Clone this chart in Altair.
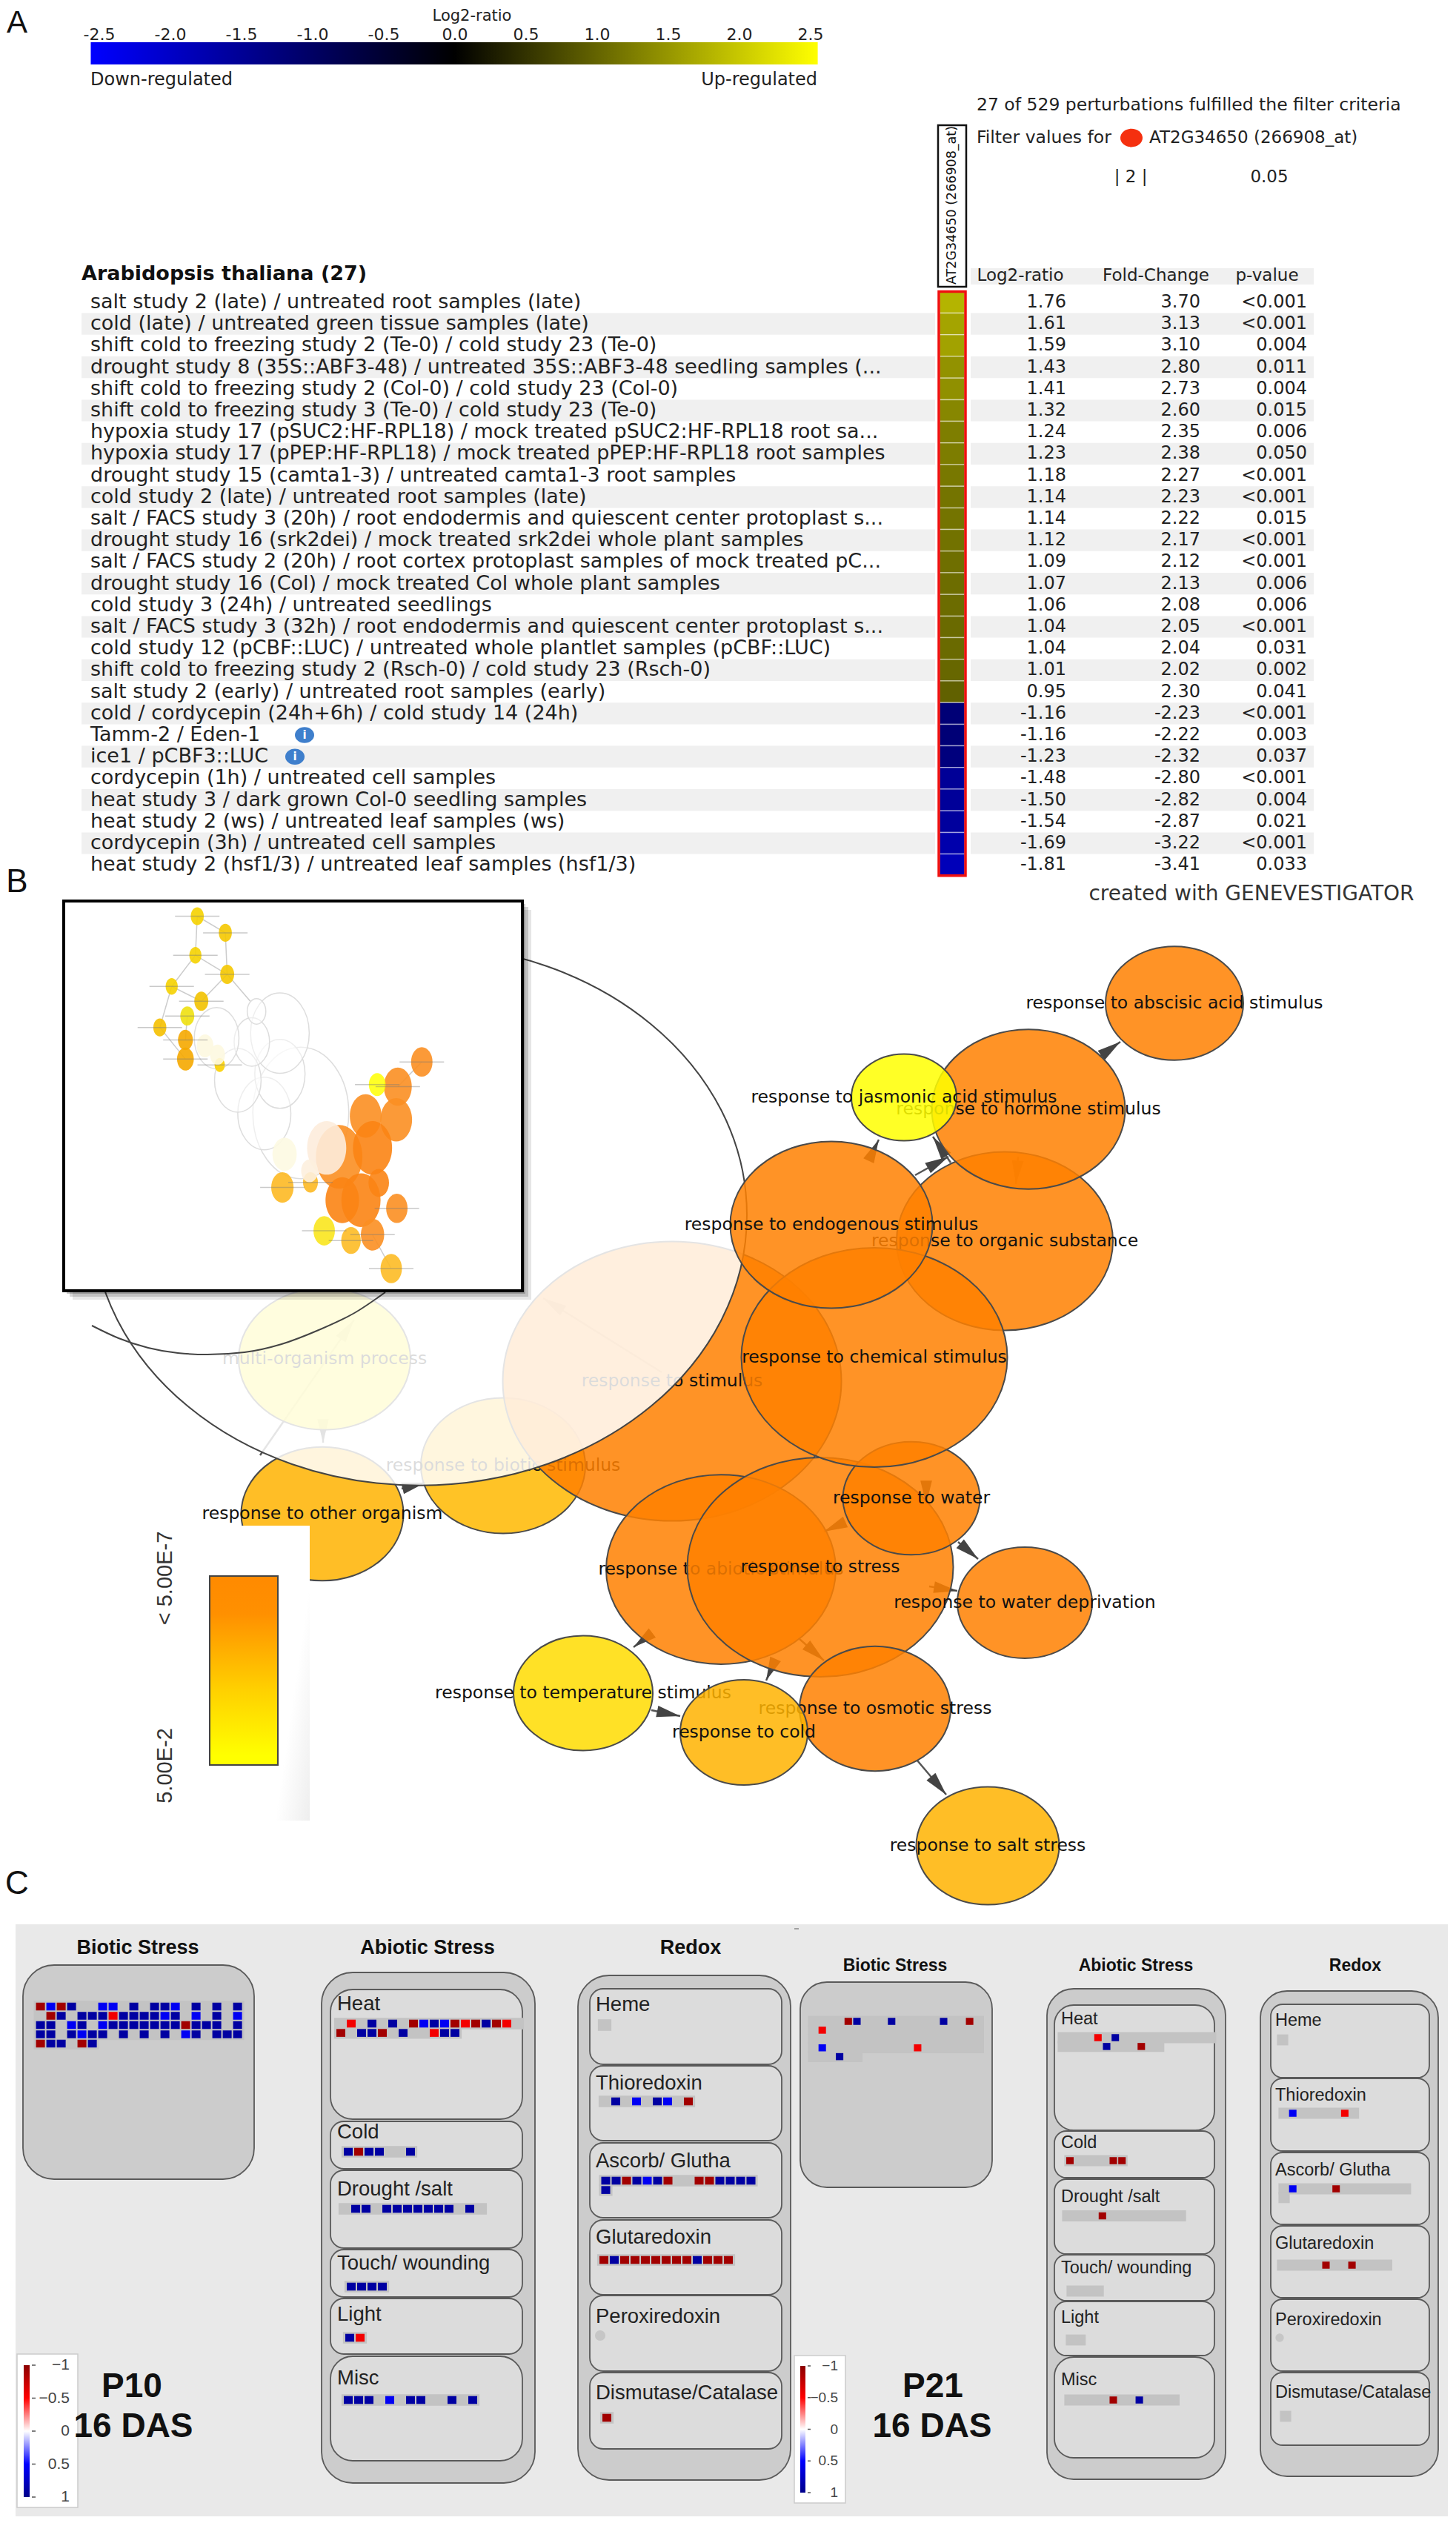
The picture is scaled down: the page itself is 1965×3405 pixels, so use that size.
import math
import altair as alt
import pandas as pd

W, H = 1949, 3389
PX = alt.Scale(domain=[8, 1957], range=[0, W], nice=False, zero=False)
PY = alt.Scale(domain=[8, 3397], range=[0, H], nice=False, zero=False)
SANS = "DejaVu Sans"
ARIAL = "Liberation Sans"

# ---------- panel A values ----------
row_labels = [
    "salt study 2 (late) / untreated root samples (late)",
    "cold (late) / untreated green tissue samples (late)",
    "shift cold to freezing study 2 (Te-0) / cold study 23 (Te-0)",
    "drought study 8 (35S::ABF3-48) / untreated 35S::ABF3-48 seedling samples (...",
    "shift cold to freezing study 2 (Col-0) / cold study 23 (Col-0)",
    "shift cold to freezing study 3 (Te-0) / cold study 23 (Te-0)",
    "hypoxia study 17 (pSUC2:HF-RPL18) / mock treated pSUC2:HF-RPL18 root sa...",
    "hypoxia study 17 (pPEP:HF-RPL18) / mock treated pPEP:HF-RPL18 root samples",
    "drought study 15 (camta1-3) / untreated camta1-3 root samples",
    "cold study 2 (late) / untreated root samples (late)",
    "salt / FACS study 3 (20h) / root endodermis and quiescent center protoplast s...",
    "drought study 16 (srk2dei) / mock treated srk2dei whole plant samples",
    "salt / FACS study 2 (20h) / root cortex protoplast samples of mock treated pC...",
    "drought study 16 (Col) / mock treated Col whole plant samples",
    "cold study 3 (24h) / untreated seedlings",
    "salt / FACS study 3 (32h) / root endodermis and quiescent center protoplast s...",
    "cold study 12 (pCBF::LUC) / untreated whole plantlet samples (pCBF::LUC)",
    "shift cold to freezing study 2 (Rsch-0) / cold study 23 (Rsch-0)",
    "salt study 2 (early) / untreated root samples (early)",
    "cold / cordycepin (24h+6h) / cold study 14 (24h)",
    "Tamm-2 / Eden-1",
    "ice1 / pCBF3::LUC",
    "cordycepin (1h) / untreated cell samples",
    "heat study 3 / dark grown Col-0 seedling samples",
    "heat study 2 (ws) / untreated leaf samples (ws)",
    "cordycepin (3h) / untreated cell samples",
    "heat study 2 (hsf1/3) / untreated leaf samples (hsf1/3)",
]
log2_ratio = [1.76, 1.61, 1.59, 1.43, 1.41, 1.32, 1.24, 1.23, 1.18, 1.14, 1.14, 1.12, 1.09, 1.07,
              1.06, 1.04, 1.04, 1.01, 0.95, -1.16, -1.16, -1.23, -1.48, -1.50, -1.54, -1.69, -1.81]
fold_change = [3.70, 3.13, 3.10, 2.80, 2.73, 2.60, 2.35, 2.38, 2.27, 2.23, 2.22, 2.17, 2.12, 2.13,
               2.08, 2.05, 2.04, 2.02, 2.30, -2.23, -2.22, -2.32, -2.80, -2.82, -2.87, -3.22, -3.41]
p_values = ["<0.001", "<0.001", "0.004", "0.011", "0.004", "0.015", "0.006", "0.050", "<0.001",
            "<0.001", "0.015", "<0.001", "<0.001", "0.006", "0.006", "<0.001", "0.031", "0.002",
            "0.041", "<0.001", "0.003", "0.037", "<0.001", "0.004", "0.021", "<0.001", "0.033"]
scale_ticks = [-2.5, -2.0, -1.5, -1.0, -0.5, 0.0, 0.5, 1.0, 1.5, 2.0, 2.5]

# ---------- panel B values ----------
node_names = ["response to other organism", "multi-organism process", "response to biotic stimulus",
              "response to stimulus", "response to abiotic stimulus", "response to stress",
              "response to osmotic stress", "response to temperature stimulus", "response to cold",
              "response to salt stress", "response to water deprivation", "response to water",
              "response to organic substance", "response to chemical stimulus", "response to hormone stimulus",
              "response to jasmonic acid stimulus", "response to endogenous stimulus", "response to abscisic acid stimulus"]
node_x = [435, 438, 679, 907, 973, 1107, 1181, 787, 1004, 1333, 1383, 1230, 1356, 1180, 1388, 1220, 1122, 1585]
node_y = [2043, 1834, 1978, 1864, 2118, 2115, 2306, 2285, 2338, 2491, 2163, 2022, 1675, 1832, 1497, 1481, 1653, 1354]
node_w = [219, 232, 222, 457, 310, 359, 204, 188, 172, 193, 182, 185, 292, 359, 261, 142, 273, 186]
node_fill = ["#ffb300", "#ffee00", "#ffb800", "#ff8000", "#ff8000", "#ff8000", "#ff8000", "#ffdc00", "#ffb300",
             "#ffb300", "#ff8000", "#ff8000", "#ff8000", "#ff8000", "#ff8000", "#ffff00", "#ff8000", "#ff8000"]
edges = [
    ((1484, 1426), (1512, 1406)), ((1175, 1561), (1186, 1538)), ((1235, 1586), (1280, 1561)),
    ((1283, 1569), (1259, 1534)), ((1293, 2081), (1320, 2104)), ((1238, 2376), (1277, 2422)),
    ((880, 2204), (855, 2223)), ((879, 2308), (918, 2316)), ((1079, 2212), (1112, 2241)),
    ((1044, 2245), (1034, 2268)), ((1374, 1561), (1371, 1598)), ((1254, 2141), (1292, 2147)),
    ((1141, 2054), (1112, 2067)), ((436, 1922), (436, 1947)), ((351, 1964), (478, 1781)),
    ((542, 2009), (574, 2001)), ((893, 1852), (733, 1752)), ((1250, 2000), (1250, 2030)),
]
lens_arc_x = [124, 160, 200, 240, 280, 330, 380, 430, 480, 520]
lens_arc_y = [1789, 1806, 1819, 1826, 1828, 1825, 1814, 1795, 1771, 1744]

# inset: x, y, height, fill
mini_white = [(822, 848, 515), (705, 850, 285), (755, 695, 270), (620, 720, 250), (755, 535, 315),
              (665, 570, 190), (552, 555, 240), (680, 450, 100)]
mini_links = [((490, 77), (484, 230)), ((490, 77), (580, 142)), ((580, 142), (586, 305)), ((484, 230), (586, 305)),
              ((484, 230), (408, 352)), ((586, 305), (503, 410)), ((408, 352), (370, 513)), ((586, 305), (660, 410)),
              ((408, 352), (503, 410)), ((370, 513), (452, 637)), ((458, 468), (452, 562)), ((1133, 745), (1210, 648)),
              ((1052, 1325), (1112, 1458))]
mini_nodes = [
    (490, 77, 70, "#f5d100"), (580, 142, 70, "#f5c800"), (484, 230, 65, "#f5d100"), (586, 305, 75, "#f5c800"),
    (408, 352, 65, "#f5d100"), (503, 410, 75, "#f2c200"), (458, 468, 75, "#eee010"), (370, 513, 70, "#f5c000"),
    (452, 562, 80, "#f5a800"), (452, 637, 90, "#f5a800"), (562, 660, 55, "#fbd000"),
    (945, 1020, 250, "#fb8f22"), (1128, 875, 170, "#fb8f22"), (1030, 860, 170, "#fb8f22"), (1133, 745, 150, "#fb8f22"),
    (1210, 648, 115, "#fb8f22"), (1067, 737, 90, "#ffff10"), (955, 1190, 180, "#fb8414"), (1015, 1190, 210, "#fb8414"),
    (1052, 985, 210, "#fb8414"), (1072, 1122, 110, "#fb8414"), (1130, 1222, 115, "#fb8f22"), (897, 1310, 115, "#fae61e"),
    (983, 1348, 105, "#fdbb25"), (1052, 1325, 125, "#fb8f22"), (1112, 1458, 115, "#fdbb25"), (763, 1140, 120, "#fdb924"),
    (853, 1120, 80, "#fdb924"),
]
mini_pale = [(515, 585, 90, "#fdf8e0"), (555, 620, 80, "#fdf8e0"), (770, 1010, 130, "#fdfae2"),
             (905, 985, 210, "#fdecdc"), (850, 1075, 90, "#fdf0de")]

# ---------- panel C values ----------
DR, RD, BL, DB = -0.9, -0.55, 0.55, 0.9
biotic_p10 = [
    [(0, DR), (1, BL), (2, DR), (3, DB), (6, BL), (7, BL), (9, DB), (11, DB), (12, DB), (13, BL), (15, DB), (17, DB), (19, DB)],
    [(1, DR), (2, DB), (4, DB), (5, DB), (6, DB), (7, RD), (8, DB), (9, DB), (10, DB), (11, DB), (12, BL), (13, DB), (15, BL), (17, DB), (19, BL)],
    [(0, DB), (1, DB), (3, BL), (4, DB), (6, BL), (7, DB), (8, DB), (9, DB), (10, DB), (11, DB), (12, DB), (13, DB), (14, DR), (15, DB), (16, DB), (17, DB), (19, DB)],
    [(0, DB), (1, DB), (3, DB), (4, BL), (5, DB), (6, DB), (8, DB), (10, DB), (12, DB), (14, BL), (15, DB), (17, DB), (18, DB), (19, DB)],
    [(0, DR), (1, DB), (2, DB), (4, DR), (5, DB)],
]
heat_p10 = [[(1, RD), (3, DB), (5, DB), (7, DR), (8, BL), (9, DB), (10, BL), (11, DR), (12, RD), (13, DR), (14, DB), (15, DR), (16, RD)],
            [(0, DR), (2, DB), (3, DB), (4, DR), (6, DB), (9, RD), (10, DB), (11, DB)]]
cold_p10 = [[(0, DB), (1, DR), (2, DB), (3, DB), (6, DB)]]
drought_p10 = [[(1, DB), (2, DB), (4, DB), (5, DB), (6, DB), (7, DB), (8, DB), (9, DB), (10, DB), (12, DB)]]
touch_p10 = [[(0, DB), (1, DB), (2, DB), (3, DB)]]
light_p10 = [[(0, DB), (1, RD)]]
misc_p10 = [[(0, DB), (1, DB), (2, DB), (4, BL), (6, DB), (7, DB), (10, DB), (12, DB)]]
thio_p10 = [[(1, DB), (3, BL), (5, DB), (6, BL), (8, DR)]]
asc_p10 = [[(0, DB), (1, DB), (2, DR), (3, DB), (4, BL), (5, DB), (6, DR), (9, DR), (10, DR), (11, DB), (12, DB), (13, DB), (14, DB)], [(0, DB)]]
glut_p10 = [[(0, DR), (1, DB), (2, DR), (3, DR), (4, DR), (5, DR), (6, DR), (7, DR), (8, DR), (9, DB), (10, DR), (11, DR), (12, DR)]]
dis_p10 = [[(0, DR)]]

biotic_p21 = [[(4, DR), (5, DB), (9, DB), (15, DB), (18, DR)], [(1, RD)], [], [(1, BL), (12, RD)], [(3, DB)]]
heat_p21 = [[(4, RD), (6, DB)], [(5, DB), (9, DR)]]
cold_p21 = [[(0, DR), (5, DR), (6, DR)]]
drought_p21 = [[(4, DR)]]
misc_p21 = [[(5, DR), (8, DB)]]
thio_p21 = [[(1, BL), (7, RD)]]
asc_p21 = [[(1, BL), (6, DR)], []]
glut_p21 = [[(5, DR), (8, DR)]]

legend_ticks = [-1, -0.5, 0, 0.5, 1]
legend_labels = ["\u22121", "\u22120.5", "0", "0.5", "1"]

# ---------- helpers ----------
layers = []


def X(f="x", s=PX):
    return alt.X(f + ":Q", scale=s, axis=None, title=None)


def Y(f="y", s=PY):
    return alt.Y(f + ":Q", scale=s, axis=None, title=None)


def rects(rows, sx=PX, sy=PY, color=None, **mk):
    df = pd.DataFrame(rows, columns=["x", "x2", "y", "y2"])
    enc = dict(x=X("x", sx), x2=alt.X2("x2"), y=Y("y", sy), y2=alt.Y2("y2"))
    if color is not None:
        mk["color"] = color
    layers.append(alt.Chart(df).mark_rect(**mk).encode(**enc))


def texts(rows, sx=PX, sy=PY, **mk):
    df = pd.DataFrame(rows, columns=["x", "y", "t"])
    mk.setdefault("baseline", "middle")
    layers.append(alt.Chart(df).mark_text(**mk).encode(x=X("x", sx), y=Y("y", sy), text="t:N"))


def rules(rows, sx=PX, sy=PY, **mk):
    df = pd.DataFrame(rows, columns=["x", "x2", "y"])
    layers.append(alt.Chart(df).mark_rule(**mk).encode(x=X("x", sx), x2=alt.X2("x2"), y=Y("y", sy)))


def ellipse_path(a, b):
    k = 0.5523
    return (f"M{a},0 C{a},{b*k:.4f} {a*k:.4f},{b} 0,{b} C{-a*k:.4f},{b} {-a},{b*k:.4f} {-a},0 "
            f"C{-a},{-b*k:.4f} {-a*k:.4f},{-b} 0,{-b} C{a*k:.4f},{-b} {a},{-b*k:.4f} {a},0 Z")


WIDE = ellipse_path(1, 0.825)
TALL = ellipse_path(0.73, 1)
ARROW = "M0,0 L0.42,1.7 L-0.42,1.7 Z"


def ellipses(xs, ys, ws, path=WIDE, sx=PX, sy=PY, **mk):
    df = pd.DataFrame({"x": xs, "y": ys, "s": [w * w for w in ws]})
    layers.append(alt.Chart(df).mark_point(shape=path, **mk).encode(
        x=X("x", sx), y=Y("y", sy), size=alt.Size("s:Q", scale=None, legend=None)))


# ---------- panel A ----------
texts([(23, 31, "A")], font=ARIAL, fontSize=42, color="#111", align="center")
cbar = alt.Scale(domain=[-2.5, 2.5], range=[134 - 8, 1094 - 8], nice=False, zero=False)
rects([(-2.56, 2.55, 57, 87)], sx=cbar,
      color=alt.Gradient(gradient="linear", x1=0, x2=1, y1=0, y2=0,
                         stops=[alt.GradientStop(color="#0000ff", offset=0),
                                alt.GradientStop(color="#000000", offset=0.5),
                                alt.GradientStop(color="#ffff00", offset=1)]))
texts([(v, 47, f"{v:.1f}") for v in scale_ticks], sx=cbar, font=SANS, fontSize=22, color="#222", align="center")
texts([(637, 22, "Log2-ratio")], font=SANS, fontSize=21, color="#222", align="center")
texts([(122, 108, "Down-regulated")], font=SANS, fontSize=24, color="#222", align="left")
texts([(1103, 108, "Up-regulated")], font=SANS, fontSize=24, color="#222", align="right")

texts([(1318, 142, "27 of 529 perturbations fulfilled the filter criteria"),
       (1318, 186, "Filter values for")], font=SANS, fontSize=23.5, color="#222", align="left")
ellipses([1527], [186], [30], fill="#f5300f", filled=True, strokeWidth=0, opacity=1)
texts([(1551, 186, "AT2G34650 (266908_at)")], font=SANS, fontSize=23, color="#222", align="left")
texts([(1526, 239, "| 2 |"), (1713, 239, "0.05")], font=SANS, fontSize=23, color="#222", align="center")
rects([(1266, 1304, 169, 387)], fill="white", stroke="#111", strokeWidth=2.5)
texts([(1285, 277, "AT2G34650 (266908_at)")], font=SANS, fontSize=17.5, color="#111", align="center", angle=270)
texts([(110, 370, "Arabidopsis thaliana (27)")], font=SANS, fontSize=27, fontWeight="bold", color="#111", align="left")
rects([(1310, 1773, 362, 384)], fill="#f0f0f0")
texts([(1377, 372, "Log2-ratio"), (1560, 372, "Fold-Change"), (1710, 372, "p-value")],
      font=SANS, fontSize=23, color="#222", align="center")

ROW = alt.Scale(domain=[0, 27], range=[393.4 - 8, 1181.8 - 8], nice=False, zero=False)
shade = [(i, i + 1) for i in range(1, 27, 2)]
rects([(110, 1262, a, b) for a, b in shade], sy=ROW, fill="#f0f0f0")
rects([(1310, 1773, a, b) for a, b in shade], sy=ROW, fill="#f0f0f0")
texts([(122, i + 0.5, t) for i, t in enumerate(row_labels)], sy=ROW, font=SANS, fontSize=27, color="#222", align="left")
texts([(1439, i + 0.5, f"{v:.2f}") for i, v in enumerate(log2_ratio)], sy=ROW, font=SANS, fontSize=24, color="#222", align="right")
texts([(1620, i + 0.5, f"{v:.2f}") for i, v in enumerate(fold_change)], sy=ROW, font=SANS, fontSize=24, color="#222", align="right")
texts([(1764, i + 0.5, v) for i, v in enumerate(p_values)], sy=ROW, font=SANS, fontSize=24, color="#222", align="right")

heat = pd.DataFrame({"row": range(27), "row2": [i + 1 for i in range(27)], "v": log2_ratio, "x": 1268, "x2": 1302})
layers.append(alt.Chart(heat).mark_rect(stroke="#ffffff", strokeOpacity=0.45, strokeWidth=1.5).encode(
    x=X("x"), x2=alt.X2("x2"), y=Y("row", ROW), y2=alt.Y2("row2"),
    color=alt.Color("v:Q", legend=None,
                    scale=alt.Scale(domain=[-2.5, 0, 2.5], range=["#0000ff", "#000000", "#ffff00"], interpolate="rgb"))))
rects([(1267, 1303, 0, 27)], sy=ROW, fill=None, filled=False, stroke="#f01010", strokeWidth=3.5)
ellipses([411, 398], [20.5, 21.5], [26, 26], sy=ROW, fill="#3f7fcc", filled=True, strokeWidth=0, opacity=1)
texts([(411, 20.5, "i"), (398, 21.5, "i")], sy=ROW, font=SANS, fontSize=15, fontWeight="bold", color="white", align="center")
texts([(1689, 1207, "created with GENEVESTIGATOR")], font=SANS, fontSize=28, color="#333", align="center")

# ---------- panel B ----------
texts([(23, 1191, "B")], font=ARIAL, fontSize=44, color="#111", align="center")
edge_rows = []
head_rows = []
for i, ((x0, y0), (x1, y1)) in enumerate(edges):
    edge_rows += [(i, 0, x0, y0), (i, 1, x1, y1)]
    head_rows.append((x1, y1, (math.degrees(math.atan2(x1 - x0, y0 - y1)) + 360) % 360))
edge_df = pd.DataFrame(edge_rows, columns=["id", "o", "x", "y"])
layers.append(alt.Chart(edge_df).mark_line(color="#555555", strokeWidth=2.5).encode(
    x=X("x"), y=Y("y"), detail="id:N", order="o:Q"))
head_df = pd.DataFrame(head_rows, columns=["x", "y", "a"])
layers.append(alt.Chart(head_df).mark_point(shape=ARROW, filled=True, fill="#444444", strokeWidth=0, size=1400, opacity=1).encode(
    x=X("x"), y=Y("y"), angle=alt.Angle("a:Q", scale=None)))

for name, x, y, w, col in zip(node_names, node_x, node_y, node_w, node_fill):
    ellipses([x], [y], [w], fill=col, filled=True, fillOpacity=0.85, stroke="#4a4a4a", strokeWidth=2, opacity=1)
    texts([(x, y, name)], font=SANS, fontSize=23.5, color="#111", align="center")
    if name == "response to stimulus":
        ellipses([566], [1640], [884], fill="white", filled=True, fillOpacity=0.85, stroke="#444444", strokeWidth=2, opacity=1)

arc_df = pd.DataFrame({"x": lens_arc_x, "y": lens_arc_y, "o": range(len(lens_arc_x))})
layers.append(alt.Chart(arc_df).mark_line(color="#444444", strokeWidth=2, interpolate="monotone").encode(
    x=X("x"), y=Y("y"), order="o:Q"))

for d, op in ((12, 0.10), (8, 0.16), (4, 0.22)):
    rects([(86 + d, 705 + d, 1216 + d, 1742 + d)], fill="#000000", opacity=op)
rects([(86, 705, 1216, 1742)], fill="white", stroke="#000000", strokeWidth=4)


def mx(z):
    return 60 + z / 2.376


def my(z):
    return 1210 + z / 2.904


ellipses([mx(m[0]) for m in mini_white], [my(m[1]) for m in mini_white], [m[2] / 2.904 for m in mini_white],
         path=TALL, fill="white", filled=True, fillOpacity=0.5, stroke="#dddddd", strokeWidth=1.5, opacity=1)
link_rows = []
for i, ((x0, y0), (x1, y1)) in enumerate(mini_links):
    link_rows += [(i, 0, mx(x0), my(y0)), (i, 1, mx(x1), my(y1))]
layers.append(alt.Chart(pd.DataFrame(link_rows, columns=["id", "o", "x", "y"])).mark_line(color="#cccccc", strokeWidth=1.5).encode(
    x=X("x"), y=Y("y"), detail="id:N", order="o:Q"))
for grp, op in ((mini_nodes, 0.9), (mini_pale, 0.9)):
    for zx, zy, zh, col in grp:
        ellipses([mx(zx)], [my(zy)], [zh / 2.904], path=TALL, fill=col, filled=True, fillOpacity=op, strokeWidth=0, opacity=1)
rules([(mx(m[0]) - 30, mx(m[0]) + 30, my(m[1])) for m in mini_nodes[:11] + mini_nodes[14:17] + mini_nodes[21:]],
      color="#777777", strokeWidth=1.5, opacity=0.4)

rects([(325, 418, 2059, 2457)],
      color=alt.Gradient(gradient="linear", x1=0.2, x2=1, y1=0.5, y2=1,
                         stops=[alt.GradientStop(color="#ffffff", offset=0),
                                alt.GradientStop(color="#ffffff", offset=0.55),
                                alt.GradientStop(color="#eeeeee", offset=1)]))
rects([(283, 375, 2127, 2382)], stroke="#444444", strokeWidth=2,
      color=alt.Gradient(gradient="linear", x1=0, x2=0, y1=0, y2=1,
                         stops=[alt.GradientStop(color="#ff8a00", offset=0),
                                alt.GradientStop(color="#ff9000", offset=0.2),
                                alt.GradientStop(color="#ffd000", offset=0.6),
                                alt.GradientStop(color="#ffff00", offset=0.95),
                                alt.GradientStop(color="#ffff00", offset=1)]))
texts([(223, 2130, "< 5.00E-7"), (223, 2383, "5.00E-2")], font=ARIAL, fontSize=29, color="#333", align="center", angle=270)

# ---------- panel C ----------
texts([(23, 2543, "C")], font=ARIAL, fontSize=44, color="#111", align="center")
rects([(21, 1954, 2597, 3396)], fill="#e9e9e9")
rules([(1072, 1078, 2603)], color="#888888", strokeWidth=1.5)

GROUP = "#cccccc"
INNER = "#dcdcdc"
EDGE = "#5a5a5a"
cell_scale = alt.Scale(domain=[-1, -0.5, 0, 0.5, 1], range=["#8b0000", "#ff0000", "#ffffff", "#0000ff", "#00008b"], interpolate="rgb")


def section(x0, y0, px, py, strips, cells=(), cw=0.43, ch=0.42):
    sx = alt.Scale(domain=[0, 1], range=[x0 - 8, x0 - 8 + px], nice=False, zero=False)
    sy = alt.Scale(domain=[0, 1], range=[y0 - 8, y0 - 8 + py], nice=False, zero=False)
    rects([(-0.65, n - 0.35, r - 0.62, r + 0.62) for r, n in enumerate(strips)], sx=sx, sy=sy, fill="#c3c3c3")
    rows = [(c - cw, c + cw, r - ch, r + ch, v) for r, row in enumerate(cells) for c, v in row]
    if rows:
        df = pd.DataFrame(rows, columns=["x", "x2", "y", "y2", "v"])
        layers.append(alt.Chart(df).mark_rect().encode(
            x=X("x", sx), x2=alt.X2("x2"), y=Y("y", sy), y2=alt.Y2("y2"),
            color=alt.Color("v:Q", scale=cell_scale, legend=None)))


def boxes(rows, fill, radius, **kw):
    rects(rows, fill=fill, stroke=EDGE, strokeWidth=1.8, cornerRadius=radius, **kw)


# P10
texts([(186, 2629, "Biotic Stress"), (577, 2629, "Abiotic Stress"), (932, 2629, "Redox")],
      font=ARIAL, fontSize=27, fontWeight="bold", color="#111", align="center")
boxes([(31, 343, 2652, 2941)], GROUP, 42)
boxes([(434, 722, 2662, 3351), (780, 1067, 2666, 3347)], GROUP, 42)
boxes([(446, 705, 2685, 2860), (446, 705, 3180, 3321)], INNER, 30)
boxes([(446, 705, 2863, 2927), (446, 705, 2929, 3034), (446, 705, 3036, 3100), (446, 705, 3102, 3177),
       (796, 1055, 2684, 2786), (796, 1055, 2788, 2889), (796, 1055, 2892, 2993), (796, 1055, 2996, 3097),
       (796, 1055, 3098, 3200), (796, 1055, 3202, 3305)], INNER, 18)
texts([(455, 2705, "Heat"), (455, 2878, "Cold"), (455, 2955, "Drought /salt"), (455, 3055, "Touch/  wounding"),
       (455, 3124, "Light"), (455, 3210, "Misc"), (804, 2706, "Heme"), (804, 2812, "Thioredoxin"),
       (804, 2917, "Ascorb/ Glutha"), (804, 3020, "Glutaredoxin"), (804, 3127, "Peroxiredoxin"),
       (804, 3230, "Dismutase/Catalase")], font=ARIAL, fontSize=27.5, color="#222", align="left")
P = (14.0, 12.6)
section(54.6, 2708, 14.0, 12.5, [20, 20, 20, 20, 6], biotic_p10)
section(460, 2731, *P, [18, 12], heat_p10)
section(470, 2904, *P, [7], cold_p10)
section(466, 2981, *P, [14], drought_p10)
section(474, 3086, *P, [4], touch_p10)
section(472, 3155, *P, [2], light_p10)
section(470, 3239, *P, [13], misc_p10)
section(816, 2733, *P, [1])
section(817, 2836, *P, [9], thio_p10)
section(817.5, 2943, *P, [15, 1], asc_p10)
section(815, 3050, *P, [13], glut_p10)
section(819, 3263, *P, [1], dis_p10)
layers.append(alt.Chart(pd.DataFrame({"x": [810], "y": [3152]})).mark_circle(color="#c6c6c6", size=200, opacity=1).encode(x=X("x"), y=Y("y")))

# P21
texts([(1208, 2653, "Biotic Stress"), (1533, 2653, "Abiotic Stress"), (1829, 2653, "Redox")],
      font=ARIAL, fontSize=23, fontWeight="bold", color="#111", align="center")
boxes([(1080, 1339, 2675, 2952)], GROUP, 36)
boxes([(1413, 1654, 2684, 3346), (1701, 1941, 2687, 3342)], GROUP, 36)
boxes([(1423, 1639, 2706, 2875), (1423, 1639, 3181, 3317)], INNER, 26)
boxes([(1423, 1639, 2876, 2939), (1423, 1639, 2941, 3042), (1423, 1639, 3043, 3105), (1423, 1639, 3106, 3179),
       (1715, 1929, 2705, 2804), (1715, 1929, 2805, 2903), (1715, 1929, 2905, 3002), (1715, 1929, 3004, 3101),
       (1715, 1929, 3103, 3200), (1715, 1929, 3202, 3300)], INNER, 16)
texts([(1432, 2725, "Heat"), (1432, 2892, "Cold"), (1432, 2965, "Drought /salt"), (1432, 3061, "Touch/  wounding"),
       (1432, 3128, "Light"), (1432, 3212, "Misc"), (1721, 2727, "Heme"), (1721, 2828, "Thioredoxin"),
       (1721, 2929, "Ascorb/ Glutha"), (1721, 3028, "Glutaredoxin"), (1721, 3131, "Peroxiredoxin"),
       (1721, 3229, "Dismutase/Catalase")], font=ARIAL, fontSize=23.5, color="#222", align="left")
Q = (11.7, 11.9)
CQ = dict(cw=0.43, ch=0.40)
section(1098, 2728, *Q, [20, 20, 20, 20, 6], biotic_p21, **CQ)
section(1435, 2750, *Q, [18, 12], heat_p21, **CQ)
section(1444, 2916, *Q, [7], cold_p21, **CQ)
section(1441, 2990.5, *Q, [14], drought_p21, **CQ)
section(1447, 3092, *Q, [4], **CQ)
section(1446, 3158, *Q, [2], **CQ)
section(1444, 3239, *Q, [13], misc_p21, **CQ)
section(1731, 2753, *Q, [1], **CQ)
section(1733, 2852, *Q, [9], thio_p21, **CQ)
section(1733, 2954, *Q, [15, 1], asc_p21, **CQ)
section(1731, 3057, *Q, [13], glut_p21, **CQ)
section(1735, 3261, *Q, [1], **CQ)
layers.append(alt.Chart(pd.DataFrame({"x": [1727], "y": [3155]})).mark_circle(color="#c6c6c6", size=130, opacity=1).encode(x=X("x"), y=Y("y")))


def legend(bx0, bx1, by0, by1, bar0, bar1, top, bottom, tick0, tick1, label_x, size):
    ls = alt.Scale(domain=[-1, 1], range=[top - 8, bottom - 8], nice=False, zero=False)
    rects([(bx0, bx1, by0, by1)], fill="white", stroke="#cccccc", strokeWidth=1.5)
    rects([(bar0, bar1, -1, 1)], sy=ls,
          color=alt.Gradient(gradient="linear", x1=0, x2=0, y1=0, y2=1,
                             stops=[alt.GradientStop(color="#8b0000", offset=0),
                                    alt.GradientStop(color="#ff0000", offset=0.25),
                                    alt.GradientStop(color="#ffffff", offset=0.5),
                                    alt.GradientStop(color="#0000ff", offset=0.75),
                                    alt.GradientStop(color="#00008b", offset=1)]))
    rules([(tick0, tick1, v) for v in legend_ticks], sy=ls, color="#555555", strokeWidth=1.5)
    texts([(label_x, v, t) for v, t in zip(legend_ticks, legend_labels)], sy=ls, font=ARIAL, fontSize=size, color="#444", align="right")


legend(23, 105, 3177, 3384, 32, 40, 3192, 3370, 43, 48, 94, 21)
legend(1072, 1141, 3179, 3378, 1080, 1087, 3193, 3364, 1090, 1094, 1131, 19)
texts([(178, 3221, "P10"), (180, 3275, "16 DAS"), (1259, 3221, "P21"), (1258, 3275, "16 DAS")],
      font=ARIAL, fontSize=46, fontWeight="bold", color="#111", align="center")

chart = alt.layer(*layers).resolve_scale(x="independent", y="independent", color="independent").properties(
    width=W, height=H, padding=0, autosize=alt.AutoSizeParams(type="none"), background="white"
).configure_view(stroke=None)
chart.save("out.html", embed_options={"renderer": "svg", "actions": False})
